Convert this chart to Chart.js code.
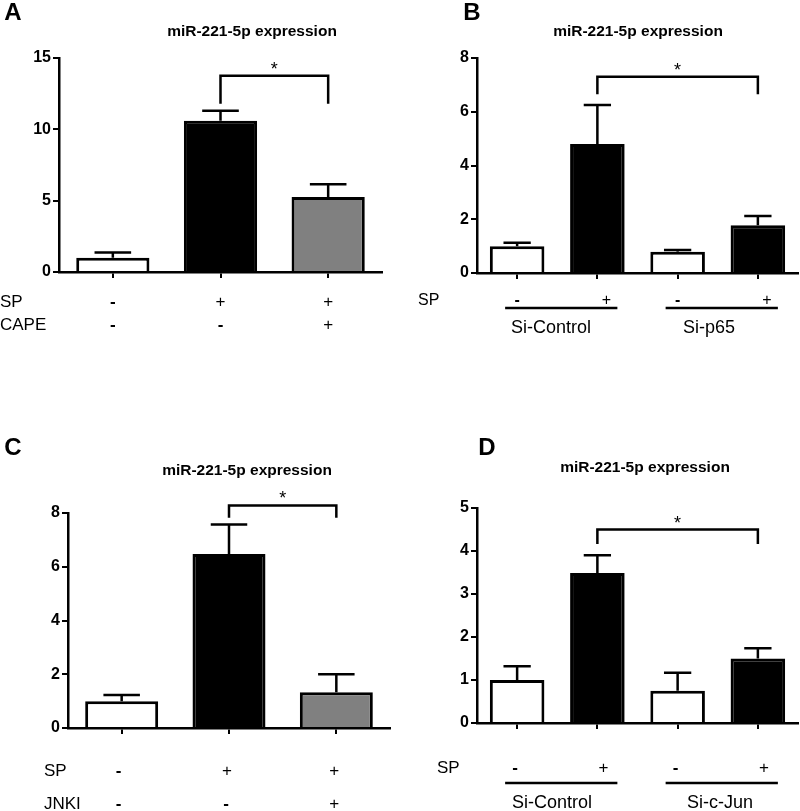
<!DOCTYPE html>
<html lang="en">
<head>
<meta charset="UTF-8">
<title>miR-221-5p expression</title>
<script src="https://cdn.jsdelivr.net/npm/chart.js"></script>
<style>
  body { margin: 0; background: #fff; }
  #wrap { position: relative; width: 800px; height: 811px; }
  canvas { position: absolute; }
</style>
</head>
<body>
<div id="wrap">
  <canvas id="chartA" width="400" height="400" style="left:0;top:0"></canvas>
  <canvas id="chartB" width="400" height="400" style="left:400px;top:0"></canvas>
  <canvas id="chartC" width="400" height="411" style="left:0;top:400px"></canvas>
  <canvas id="chartD" width="400" height="411" style="left:400px;top:400px"></canvas>
</div>
<script>
// ---- data ----
// A: SP with / without CAPE
const groupsA = ['Control', 'SP', 'SP + CAPE'];
const meanA = [1.0, 10.6, 5.25];
const semA = [0.37, 0.7, 0.9];
const spA = ['-', '+', '+'];
const capeA = ['-', '-', '+'];
const yTicksA = [0, 5, 10, 15];
const sigA = [1, 2];          // bracket between these bars
const sigLevelA = [13.75, 11.8]; // bracket top, leg ends

// B: Si-Control vs Si-p65
const groupsB = ['Si-Control -', 'Si-Control +', 'Si-p65 -', 'Si-p65 +'];
const meanB = [1.0, 4.8, 0.79, 1.78];
const semB = [0.13, 1.45, 0.07, 0.34];
const spB = ['-', '+', '-', '+'];
const siB = ['Si-Control', 'Si-p65'];
const yTicksB = [0, 2, 4, 6, 8];
const sigB = [1, 3];
const sigLevelB = [7.3, 6.65];

// C: SP with / without JNKI
const groupsC = ['Control', 'SP', 'SP + JNKI'];
const meanC = [1.0, 6.47, 1.33];
const semC = [0.23, 1.1, 0.67];
const spC = ['-', '+', '+'];
const jnkiC = ['-', '-', '+'];
const yTicksC = [0, 2, 4, 6, 8];
const sigC = [1, 2];
const sigLevelC = [8.28, 7.82];

// D: Si-Control vs Si-c-Jun
const groupsD = ['Si-Control -', 'Si-Control +', 'Si-c-Jun -', 'Si-c-Jun +'];
const meanD = [1.0, 3.49, 0.75, 1.5];
const semD = [0.32, 0.41, 0.42, 0.24];
const spD = ['-', '+', '-', '+'];
const siD = ['Si-Control', 'Si-c-Jun'];
const yTicksD = [0, 1, 2, 3, 4, 5];
const sigD = [1, 3];
const sigLevelD = [4.5, 4.16];

const TITLE = 'miR-221-5p expression';
const WHITE = '#ffffff', BLACK = '#000000', GREY = '#808080';

// draws error bars, significance bracket and all the text around a panel
function extras(p) {
    return {
        id: 'extras',
        afterDraw(chart) {
            const ctx = chart.ctx;
            const x = chart.scales.x, y = chart.scales.y;
            const meta = chart.getDatasetMeta(0);
            ctx.save();
            ctx.strokeStyle = BLACK;
            ctx.fillStyle = BLACK;
            ctx.lineWidth = 2.5;

            // error bars (upper only)
            meta.data.forEach((bar, i) => {
                const top = y.getPixelForValue(p.mean[i] + p.sem[i]);
                const half = bar.width / 4;
                ctx.beginPath();
                ctx.moveTo(bar.x, bar.y);
                ctx.lineTo(bar.x, top);
                ctx.moveTo(bar.x - half, top);
                ctx.lineTo(bar.x + half, top);
                ctx.stroke();
            });

            // significance bracket
            const x1 = x.getPixelForValue(p.sig[0]);
            const x2 = x.getPixelForValue(p.sig[1]);
            const yt = y.getPixelForValue(p.sigLevel[0]);
            const yf = y.getPixelForValue(p.sigLevel[1]);
            ctx.beginPath();
            ctx.moveTo(x1, yf);
            ctx.lineTo(x1, yt);
            ctx.lineTo(x2, yt);
            ctx.lineTo(x2, yf);
            ctx.stroke();
            ctx.textAlign = 'center';
            ctx.textBaseline = 'alphabetic';
            ctx.font = '18px Arial';
            ctx.fillText('*', (x1 + x2) / 2, yt - 1);

            // panel letter and title
            ctx.textBaseline = 'middle';
            ctx.font = 'bold 24px Arial';
            ctx.fillText(p.letter, p.letterPos[0], p.letterPos[1]);
            ctx.font = 'bold 15.5px Arial';
            ctx.fillText(TITLE, p.titlePos[0], p.titlePos[1]);

            // +/- rows under the axis
            p.rows.forEach(r => {
                ctx.font = r.size + 'px Arial';
                ctx.textAlign = 'left';
                ctx.fillText(r.label, r.lx, r.y);
                ctx.textAlign = 'center';
                r.signs.forEach((s, i) => {
                    const dx = s === '-' ? (r.dxMinus || 0) : (r.dxPlus || 0);
                    ctx.font = (s === '-' ? 'bold ' : '') + r.size + 'px Arial';
                    ctx.fillText(s, x.getPixelForValue(i) + dx, r.y);
                });
            });

            // siRNA groups with underline
            if (p.groups) {
                ctx.lineWidth = 2.5;
                p.groups.names.forEach((name, g) => {
                    const a = x.getPixelForValue(g * 2) - 12;
                    const b = x.getPixelForValue(g * 2 + 1) + 20;
                    ctx.beginPath();
                    ctx.moveTo(a, p.groups.lineY);
                    ctx.lineTo(b, p.groups.lineY);
                    ctx.stroke();
                    ctx.font = '18px Arial';
                    ctx.textAlign = 'center';
                    ctx.fillText(name, p.groups.cx[g], p.groups.textY);
                });
            }
            ctx.restore();
        }
    };
}

function makePanel(id, p) {
    const canvas = document.getElementById(id);
    const W = canvas.width, H = canvas.height;
    return new Chart(canvas, {
        type: 'bar',
        data: {
            labels: p.labels,
            datasets: [{
                data: p.mean,
                backgroundColor: p.fills,
                borderColor: BLACK,
                borderWidth: 3,
                borderSkipped: 'bottom',
                barPercentage: 0.68,
                categoryPercentage: 1
            }]
        },
        options: {
            responsive: false,
            animation: false,
            layout: { padding: { top: p.area.t, right: W - p.area.r, left: 0, bottom: 0 } },
            plugins: { legend: { display: false }, tooltip: { enabled: false } },
            scales: {
                x: {
                    offset: true,
                    grid: { drawOnChartArea: false, drawTicks: true, tickLength: 6, offset: false, color: BLACK, lineWidth: 2 },
                    border: { display: true, color: BLACK, width: 2.5 },
                    ticks: { display: false },
                    afterFit: s => { s.height = H - p.area.b; }
                },
                y: {
                    min: 0,
                    max: p.yTicks[p.yTicks.length - 1],
                    afterBuildTicks: s => { s.ticks = p.yTicks.map(v => ({ value: v })); },
                    grid: { drawOnChartArea: false, drawTicks: true, tickLength: 6, color: BLACK, lineWidth: 2 },
                    border: { display: true, color: BLACK, width: 2.5 },
                    ticks: { color: BLACK, font: { family: 'Arial', size: 16, weight: 'bold' }, padding: 2 },
                    afterFit: s => { s.width = p.area.l; }
                }
            }
        },
        plugins: [extras(p)]
    });
}

makePanel('chartA', {
    labels: groupsA, mean: meanA, sem: semA, fills: [WHITE, BLACK, GREY],
    yTicks: yTicksA, sig: sigA, sigLevel: sigLevelA,
    area: { l: 59, r: 382, t: 58, b: 272 },
    letter: 'A', letterPos: [13, 13], titlePos: [252, 32],
    rows: [
        { label: 'SP', lx: 0, y: 302, size: 17, signs: spA },
        { label: 'CAPE', lx: 0, y: 325, size: 17, signs: capeA }
    ]
});

makePanel('chartB', {
    labels: groupsB, mean: meanB, sem: semB, fills: [WHITE, BLACK, WHITE, BLACK],
    yTicks: yTicksB, sig: sigB, sigLevel: sigLevelB,
    area: { l: 77, r: 398, t: 58, b: 273 },
    letter: 'B', letterPos: [72, 13], titlePos: [238, 32],
    rows: [
        { label: 'SP', lx: 18, y: 301, size: 16, signs: spB, dxMinus: 0, dxPlus: 9 }
    ],
    groups: { names: siB, lineY: 308, textY: 328, cx: [151, 309] }
});

makePanel('chartC', {
    labels: groupsC, mean: meanC, sem: semC, fills: [WHITE, BLACK, GREY],
    yTicks: yTicksC, sig: sigC, sigLevel: sigLevelC,
    area: { l: 68, r: 390, t: 113, b: 328 },
    letter: 'C', letterPos: [13, 48], titlePos: [247, 71],
    rows: [
        { label: 'SP', lx: 44, y: 371, size: 17, signs: spC, dxMinus: -3, dxPlus: -2 },
        { label: 'JNKI', lx: 44, y: 404, size: 17, signs: jnkiC, dxMinus: -3, dxPlus: -2 }
    ]
});

makePanel('chartD', {
    labels: groupsD, mean: meanD, sem: semD, fills: [WHITE, BLACK, WHITE, BLACK],
    yTicks: yTicksD, sig: sigD, sigLevel: sigLevelD,
    area: { l: 77, r: 398, t: 108, b: 323 },
    letter: 'D', letterPos: [87, 48], titlePos: [245, 68],
    rows: [
        { label: 'SP', lx: 37, y: 368, size: 17, signs: spD, dxMinus: -2, dxPlus: 6 }
    ],
    groups: { names: siD, lineY: 383, textY: 403, cx: [152, 320] }
});
</script>
</body>
</html>
